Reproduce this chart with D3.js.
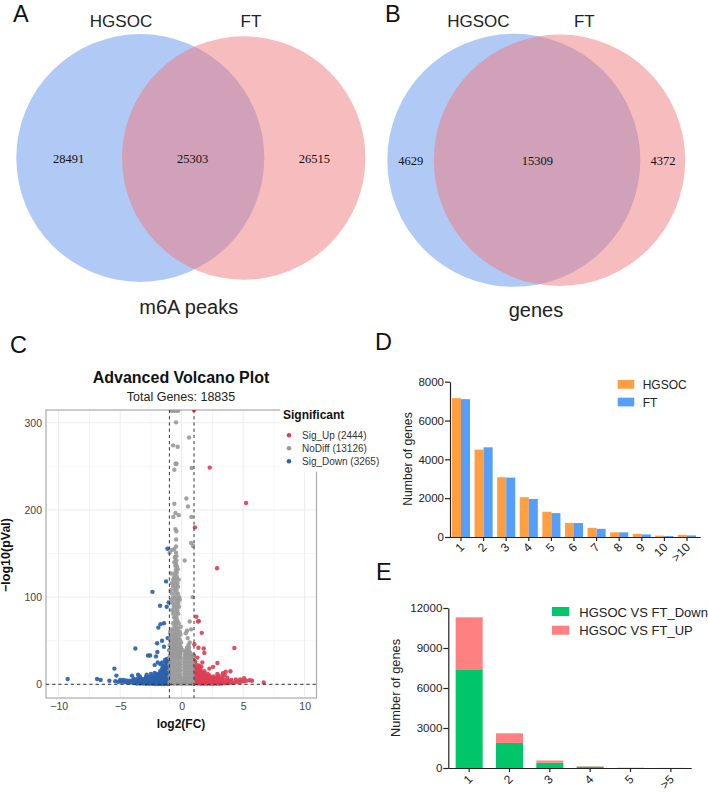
<!DOCTYPE html>
<html><head><meta charset="utf-8">
<script src="https://cdn.jsdelivr.net/npm/d3@7/dist/d3.min.js"></script>
<style>
html,body{margin:0;padding:0;background:#fff}
svg{display:block}
text{font-family:"Liberation Sans",Arial,sans-serif}
</style></head><body>
<svg id="c" width="708" height="795"></svg>
<script>
// ---- data ----
const vennSets = ["HGSOC","FT"];
const vennPeaks = [28491,25303,26515];
const vennGenes = [4629,15309,4372];
const readCats = ["1","2","3","4","5","6","7","8","9","10",">10"];
const readHGSOC = [7150,4500,3080,2050,1300,720,470,240,160,70,110];
const readFT = [7100,4620,3060,1960,1230,720,420,240,130,50,80];
const diffCats = ["1","2","3","4","5",">5"];
const diffDown = [7350,1880,400,100,12,5];
const diffUp = [3950,720,160,30,6,3];
const volcanoXTicks = [-10,-5,0,5,10];
const volcanoYTicks = [0,100,200,300];
const sigLegend = ["Sig_Up (2444)","NoDiff (13126)","Sig_Down (3265)"];

const sigDown = [[-9.27,6],[-6.88,6],[-6.59,5],[-5.88,4],[-5.47,18],[-5.31,10],[-3.77,41],[-2.74,33],[-2.57,33],[-2.09,32],[-1.98,37],[-2.0,47],[-1.6,50],[-1.44,43],[-1.14,53],[-1.0,39],[-1.9,65],[-1.73,69],[-1.44,70],[-1.22,89],[-1.76,90],[-1.06,94],[-2.38,106],[-1.27,118],[-1.16,155.5],[-2.2,22],[-1.95,25],[-1.73,23],[-1.6,25],[-1.45,20],[-4.04,10],[-3.55,11],[-3.4,9],[-2.85,11],[-2.5,12],[-2.2,13],
[-5.4,3.5],[-5.15,3],[-4.9,3],[-4.65,2.5],[-4.4,2],[-4.15,2],[-3.9,1.5],[-3.65,1],[-3.4,1],[-3.15,.8],[-2.9,.6],[-2.65,.5],[-2.4,.5],[-2.15,.4],[-1.9,.4],[-1.65,.3],[-1.4,.3],[-1.15,.3],
[-5.0,5],[-4.75,5],[-4.5,4.5],[-4.25,4],[-4.0,4.5],[-3.75,4],[-3.5,4],[-3.25,3.5],[-3.0,3.5],[-2.75,3.2],[-2.5,3],[-2.25,3],[-2.0,3],[-1.75,3],[-1.5,3],[-1.25,3],[-1.05,3],
[-3.55,2.2],[-3.3,2],[-3.05,2],[-2.8,1.8],[-2.55,1.8],[-2.3,1.7],[-2.05,1.6],[-1.8,1.6],[-1.55,1.6],[-1.3,1.6],[-1.08,1.6],
[-3.9,6.5],[-3.6,6.5],[-3.3,6.5],[-3.05,6],[-2.8,6],[-2.55,6],[-2.3,6],[-2.05,6],[-1.8,6],[-1.55,6],[-1.3,6],[-1.05,6],
[-3.2,5],[-2.95,4.8],[-2.7,4.6],[-2.45,4.5],[-2.2,4.5],[-1.95,4.5],[-1.7,4.5],[-1.45,4.5],[-1.2,4.5],
[-2.9,8.5],[-2.65,8.5],[-2.4,9],[-2.15,9],[-1.9,9],[-1.65,9],[-1.4,9],[-1.15,9],[-1.0,10],
[-2.5,7.5],[-2.25,7.5],[-2.0,7.5],[-1.75,7.5],[-1.5,7.5],[-1.25,7.5],[-1.03,7.5],
[-2.05,12],[-1.8,12],[-1.55,12.5],[-1.3,12],[-1.05,12.5],[-1.92,10.5],[-1.68,10.5],[-1.42,10.5],[-1.18,10.5],
[-1.75,15],[-1.5,15.5],[-1.25,15],[-1.02,16],[-1.62,13.8],[-1.38,13.8],[-1.13,13.8],
[-1.6,18],[-1.35,18.5],[-1.1,19],[-1.4,16.8],[-1.15,17],
[-1.5,21],[-1.25,21.5],[-1.03,22.5],[-1.2,24],[-1.02,20.5],
[-1.3,25],[-1.05,26],[-1.2,29],[-1.02,30],[-1.12,27.5],[-1.35,28]];

const sigUp = [[1.0,314.6],[2.28,248.5],[5.23,208],[1.08,180],[2.87,133],[1.19,77.6],[1.33,72],[1.39,72.5],[1.63,59],[4.28,41.7],[1.03,46],[1.36,42],[1.79,41],[1.84,36],[2.9,24.5],[2.55,20],[2.25,18],[1.27,30.6],[1.68,25],[3.96,15],[3.58,14.5],[3.36,12.6],[6.67,2],[5.72,4],[5.53,4.6],[5.07,7],[1.0,33],[1.1,26],[1.45,21],[1.6,20],[1.3,22],
[1.05,1],[1.3,.8],[1.55,.7],[1.8,.6],[2.05,.5],[2.3,.5],[2.55,.5],[2.8,.6],[3.05,.7],[3.3,.9],[3.55,1.1],[3.8,1.3],[4.05,1.6],[4.3,2],[4.55,2.5],[4.8,3],[5.05,3.5],[5.25,4],
[1.18,2.2],[1.42,2.1],[1.68,2],[1.92,1.9],[2.18,1.8],[2.42,1.8],[2.68,1.8],[2.92,1.9],[3.18,2],[3.42,2.3],[3.68,2.6],[3.92,3],
[1.05,4],[1.3,3.5],[1.55,3.5],[1.8,3.2],[2.05,3],[2.3,3],[2.55,3],[2.8,3.2],[3.05,3.5],[3.3,3.8],[3.55,4],[3.8,4.5],[4.05,5],[4.4,5.5],[4.75,5.5],
[1.18,5.2],[1.42,5],[1.68,4.8],[1.92,4.6],[2.18,4.5],[2.42,4.5],[2.68,4.6],[2.92,4.8],[3.18,5.2],
[1.05,7],[1.3,6.5],[1.55,6.5],[1.8,6],[2.05,6],[2.3,6],[2.55,6],[2.8,6],[3.05,6.5],[3.35,7],[3.7,7.5],
[1.18,8.2],[1.42,8],[1.68,7.8],[1.92,7.5],[2.18,7.5],[2.42,7.5],[2.68,7.6],[2.92,8],
[1.05,10],[1.3,9.5],[1.55,9.5],[1.8,9],[2.05,9],[2.3,9],[2.6,9],[3.0,9.5],[3.3,10],[3.5,11],
[1.18,11.2],[1.42,11],[1.68,10.8],[1.92,10.5],[2.2,10.5],
[1.05,13],[1.3,12.5],[1.55,12.5],[1.8,12],[2.1,12],[2.9,12],[1.18,14.2],[1.42,14],[1.68,13.8],
[1.05,16],[1.3,16],[1.55,15.5],[1.85,15],[1.18,17.5],[1.42,17],
[1.05,19],[1.25,19],[1.5,18],[1.05,23],[1.02,27]];

const noDiff = [[-.85,314],[-.75,314],[-.65,314],[-.55,314],[-.45,314],[-.35,314],[-.28,314],[-.46,300.4],[.6,283],[-.7,274],[-.33,272.5],[-.5,253],[-.42,253],[.81,248],[-.6,246],[.38,213],[-.6,207],[.51,204],[-.51,196.5],[-.24,194],[-.68,192],[.79,192],[-.51,178],[-.43,175.5],[-.46,166],[.76,162],[.92,158.6],[-.46,158],[-.79,154],[-.62,155],[-.98,151],[-.46,151],[-.55,146],[-.43,142],[.24,142],
[-.55,145],[-.42,147],[-.6,140],[-.45,138],[-.52,136],[-.38,135],[-.48,131],[-.33,132],
[-.86,127],[-.55,127],[-.4,128],[-.62,123],[-.38,123],[-.7,120],[-.5,120],[-.24,120],[-.8,116],[-.55,116],[-.35,116],[-.72,112],[-.48,112],[-.3,112],[-.9,108],[-.6,108],[-.42,108],[-.8,104],[-.52,104],[-.3,104],[-.7,100],[-.45,100],[-.2,100],[.89,100],[-.85,97],[-.55,97],[-.3,97],[-.16,97],[-.75,93],[-.48,93],[-.28,93],[-.65,89],[-.4,89],[-.22,89],[-.8,85],[-.55,85],[-.35,85],[-.7,81],[-.48,81],[-.28,81],[-.62,77],[-.42,77],[-.55,73],[-.35,73],[.65,72],[-.7,70],[-.45,70],[-.25,70],[-.6,66],[-.4,66],[-.08,66],[-.85,63],[-.55,63],[-.3,63],[.76,63],[.43,61.5],[-.95,60],[-.65,60],[-.4,60],[-.15,60],[.33,58.5],[-.9,57],[-.6,57],[-.35,57],[-.1,57],[-.8,54],[-.5,54],[-.25,54],[.49,53],[-.95,51],[-.65,51],[-.4,51],[-.15,51],[-.85,48],[-.55,48],[-.3,48],[-.05,48],[.65,48],[-.98,45],[-.7,45],[-.42,45],[-.18,45],[.55,45],[-.85,42],[-.6,42],[-.3,42],[-.05,42],[.43,42],[.6,42],
[-.75,56],[-.48,52.5],[-.72,49.5],[-.58,46.5],[-.3,46.5],[-.72,43.5],[-.45,43.5],[-.18,43.5],
[-.95,39],[-.7,39],[-.45,39],[-.2,39],[.1,39],[.4,39],[.52,39],[-.85,36],[-.6,36],[-.35,36],[-.1,36],[.3,36],[.5,36],[.7,36],
[-.82,40.5],[-.58,40.5],[-.32,40.5],[-.08,40.5],[-.82,37.5],[-.58,37.5],[-.32,37.5],[-.1,37.5],[.42,37.5],[.62,37.5],
[-.95,33],[-.72,33],[-.48,33],[-.22,33],[.25,33],[.42,33],[.62,33],[.8,33],
[-.85,34.5],[-.6,34.5],[-.35,34.5],[-.12,34.5],[.33,34.5],[.55,34.5],[.75,34.5],
[-.98,30],[-.75,30],[-.5,30],[-.25,30],[-.1,30],[.22,30],[.45,30],[.68,30],[.9,30],
[-.85,31.5],[-.6,31.5],[-.35,31.5],[-.12,31.5],[.33,31.5],[.55,31.5],[.8,31.5],
[-.9,26.5],[-.65,26.5],[-.4,26.5],[-.15,26.5],[.2,26.5],[.4,26.5],[.62,26.5],[.85,26.5],
[-.98,23],[-.75,23],[-.5,23],[-.25,23],[-.1,23],[.22,23],[.45,23],[.68,23],[.92,23],
[-.9,19.5],[-.65,19.5],[-.4,19.5],[-.15,19.5],[.2,19.5],[.4,19.5],[.62,19.5],[.85,19.5],
[-.98,16],[-.75,16],[-.5,16],[-.25,16],[-.1,16],[.22,16],[.45,16],[.68,16],[.92,16],
[-.9,12.5],[-.65,12.5],[-.4,12.5],[-.15,12.5],[.2,12.5],[.4,12.5],[.62,12.5],[.85,12.5],
[-.98,9],[-.75,9],[-.5,9],[-.25,9],[-.1,9],[.22,9],[.45,9],[.68,9],[.92,9],
[-.9,5.5],[-.65,5.5],[-.4,5.5],[-.15,5.5],[.05,5.5],[.25,5.5],[.45,5.5],[.65,5.5],[.87,5.5],
[-.98,2],[-.75,2],[-.5,2],[-.25,2],[-.02,2],[.2,2],[.42,2],[.68,2],[.92,2],
[-.88,.5],[-.62,.5],[-.38,.5],[-.12,.5],[.1,.5],[.32,.5],[.55,.5],[.8,.5]];

// ---- colours ----
const svg = d3.select("#c");
const vennBlue="#b0c9f5", vennRed="rgb(239,122,125)";
const cUp="#dd3f55", cNo="#9a9a9a", cDown="#2a62ab";

function letter(t,x,y){svg.append("text").attr("x",x).attr("y",y).attr("font-size",23.5).attr("fill","#111").text(t);}
letter("A",13,21.5);letter("B",385,21.5);letter("C",10,353);letter("D",375,350);letter("E",376,580);

// ---- venn ----
function venn(vals,cx1,cx2,cy,k,numX,numY,names,caption,capX,capY){
  const g=svg.append("g");
  const r=d3.scaleSqrt().domain([0,1]).range([0,k]);
  const sizes=[vals[0]+vals[1],vals[1]+vals[2]];
  g.selectAll("circle").data(sizes).join("circle")
    .attr("cx",(d,i)=>i?cx2:cx1).attr("cy",cy).attr("r",d=>r(d))
    .attr("fill",(d,i)=>i?vennRed:vennBlue).attr("fill-opacity",(d,i)=>i?.5:1);
  g.selectAll("text.n").data(vals).join("text").attr("class","n")
    .attr("x",(d,i)=>numX[i]).attr("y",numY).attr("text-anchor","middle")
    .style("font-family",'"Liberation Serif",serif').attr("font-size",12.5).attr("fill","#111").text(d=>d);
  g.selectAll("text.s").data(vennSets).join("text").attr("class","s")
    .attr("x",(d,i)=>names[i]).attr("y",26.5).attr("text-anchor","middle")
    .attr("font-size",17).attr("fill","#222").text(d=>d);
  g.append("text").attr("x",capX).attr("y",capY).attr("text-anchor","middle").attr("font-size",20).attr("fill","#222").text(caption);
}
venn(vennPeaks,140.3,243.7,158,0.5346,[68.7,192.7,314.3],162.5,[121,251],"m6A peaks",188.7,314);
venn(vennGenes,513.8,559.5,160.3,0.896,[410.7,537.3,663],164.7,[478.3,584.3],"genes",536,317);

// ---- volcano ----
const L=46,R=316.5,T=410,B=698;
const vx=d3.scaleLinear().domain([-10,10]).range([58.7,304.7]);
const vy=d3.scaleLinear().domain([0,300]).range([684.3,422.7]);
const v=svg.append("g");
v.append("clipPath").attr("id","pan").append("rect").attr("x",L).attr("y",T).attr("width",R-L).attr("height",B-T);
const minorX=[-7.5,-2.5,2.5,7.5], minorY=[50,150,250];
v.selectAll("line.mx").data(minorX).join("line").attr("class","mx").attr("x1",d=>vx(d)).attr("x2",d=>vx(d)).attr("y1",T).attr("y2",B).attr("stroke","#f5f5f5");
v.selectAll("line.my").data(minorY).join("line").attr("class","my").attr("y1",d=>vy(d)).attr("y2",d=>vy(d)).attr("x1",L).attr("x2",R).attr("stroke","#f5f5f5");
v.selectAll("line.gx").data(volcanoXTicks).join("line").attr("class","gx").attr("x1",d=>vx(d)).attr("x2",d=>vx(d)).attr("y1",T).attr("y2",B).attr("stroke","#ececec");
v.selectAll("line.gy").data(volcanoYTicks).join("line").attr("class","gy").attr("y1",d=>vy(d)).attr("y2",d=>vy(d)).attr("x1",L).attr("x2",R).attr("stroke","#ececec");
v.append("rect").attr("x",L).attr("y",T).attr("width",R-L).attr("height",B-T).attr("fill","none").attr("stroke","#aaa").attr("stroke-width",1.2);
const pts=v.append("g").attr("clip-path","url(#pan)");
[[sigDown,cDown],[sigUp,cUp],[noDiff,cNo]].forEach(([arr,c])=>{
  pts.append("g").selectAll("circle").data(arr).join("circle")
    .attr("cx",d=>vx(d[0])).attr("cy",d=>vy(d[1])).attr("r",2.2).attr("fill",c).attr("fill-opacity",.92);
});
const dash=v.append("g").attr("stroke","#333").attr("stroke-width",1).attr("stroke-dasharray","3.2,3");
dash.selectAll("line.v").data([-1,1]).join("line").attr("class","v").attr("x1",d=>vx(d)).attr("x2",d=>vx(d)).attr("y1",T).attr("y2",B);
dash.append("line").attr("x1",L).attr("x2",R).attr("y1",vy(0)).attr("y2",vy(0));
const vxa=v.append("g").attr("transform",`translate(0,${B})`).call(d3.axisBottom(vx).tickValues(volcanoXTicks).tickSize(0).tickPadding(5).tickFormat(d=>d<0?"\u2212"+(-d):d));
vxa.select(".domain").remove();
const vya=v.append("g").attr("transform",`translate(${L},0)`).call(d3.axisLeft(vy).tickValues(volcanoYTicks).tickSize(0).tickPadding(4));
vya.select(".domain").remove();
[vxa,vya].forEach(a=>a.selectAll("text").attr("font-size",10.5).attr("fill","#444").style("font-family",'"Liberation Sans"'));
v.append("text").attr("x",181).attr("y",383).attr("text-anchor","middle").attr("font-size",16).attr("font-weight","bold").attr("fill","#111").text("Advanced Volcano Plot");
v.append("text").attr("x",181).attr("y",401).attr("text-anchor","middle").attr("font-size",12.5).attr("fill","#222").text("Total Genes: 18835");
v.append("text").attr("x",181).attr("y",728).attr("text-anchor","middle").attr("font-size",12).attr("font-weight","bold").attr("fill","#111").text("log2(FC)");
v.append("text").attr("transform","translate(10,555) rotate(-90)").attr("text-anchor","middle").attr("font-size",12.5).attr("font-weight","bold").attr("fill","#111").text("\u2212log10(pVal)");
// legend
v.append("rect").attr("x",280).attr("y",405).attr("width",92).attr("height",66.5).attr("fill","#fff");
v.append("text").attr("x",283).attr("y",419).attr("font-size",12).attr("font-weight","bold").attr("fill","#111").text("Significant");
v.selectAll("circle.l").data(sigLegend).join("circle").attr("class","l").attr("cx",289).attr("cy",(d,i)=>435.3+i*13).attr("r",2.3).attr("fill",(d,i)=>[cUp,cNo,cDown][i]);
v.selectAll("text.l").data(sigLegend).join("text").attr("class","l").attr("x",302).attr("y",(d,i)=>439+i*13).attr("font-size",10).attr("fill","#333").text(d=>d);

// ---- D ----
const dx=d3.scaleBand().domain(readCats).range([449.7,698.3]).paddingInner(.2).paddingOuter(.1);
const dsub=d3.scaleBand().domain([0,1]).range([0,dx.bandwidth()]);
const dy=d3.scaleLinear().domain([0,8000]).range([537,381.7]);
const D=svg.append("g");
[[readHGSOC,"#ff9f40",0],[readFT,"#559ffb",1]].forEach(([arr,c,k])=>{
  D.append("g").selectAll("rect").data(arr).join("rect")
    .attr("x",(d,i)=>dx(readCats[i])+dsub(k)).attr("width",dsub.bandwidth())
    .attr("y",d=>dy(d)).attr("height",d=>dy(0)-dy(d)).attr("fill",c);
});
function styleAxis(a,fs){
  a.selectAll("path,line").attr("stroke","#222").attr("stroke-width",1.2);
  a.selectAll("text").attr("font-size",fs).attr("fill","#222").style("font-family",'"Liberation Sans"');
}
const dya=D.append("g").attr("transform","translate(450,0)").call(d3.axisLeft(dy).tickValues([0,2000,4000,6000,8000]).tickSize(5).tickPadding(1).tickSizeOuter(0).tickFormat(d3.format("d")));
styleAxis(dya,11.5);
const dxa=D.append("g").attr("transform","translate(0,537)").call(d3.axisBottom(dx).tickSize(4).tickSizeOuter(0));
dxa.select(".domain").attr("d","M450,0.5H700.7");
styleAxis(dxa,12);
dxa.selectAll("text").attr("text-anchor","end").attr("dy",0).attr("y",0).attr("transform","translate(4,11) rotate(-45)");
D.append("text").attr("transform","translate(412,459) rotate(-90)").attr("text-anchor","middle").attr("font-size",12.2).attr("fill","#222").text("Number of genes");
const dleg=[["HGSOC","#ff9f40",380],["FT","#559ffb",397.7]];
D.selectAll("rect.l").data(dleg).join("rect").attr("class","l").attr("x",617.7).attr("width",16.5).attr("y",d=>d[2]).attr("height",8.7).attr("fill",d=>d[1]);
D.selectAll("text.l").data(dleg).join("text").attr("class","l").attr("x",642.7).attr("y",d=>d[2]+9).attr("font-size",12).attr("fill","#222").text(d=>d[0]);

// ---- E ----
const ex=d3.scaleBand().domain(diffCats).range([449,691]).paddingInner(.33).paddingOuter(.165);
const ey=d3.scaleLinear().domain([0,12000]).range([768,608]);
const E=svg.append("g");
E.append("g").selectAll("rect").data(diffDown).join("rect")
  .attr("x",(d,i)=>ex(diffCats[i])).attr("width",ex.bandwidth()).attr("y",d=>ey(d)).attr("height",d=>ey(0)-ey(d)).attr("fill","#00c66a");
E.append("g").selectAll("rect").data(diffUp).join("rect")
  .attr("x",(d,i)=>ex(diffCats[i])).attr("width",ex.bandwidth()).attr("y",(d,i)=>ey(d+diffDown[i])).attr("height",d=>ey(0)-ey(d)).attr("fill","#ff8080");
const eya=E.append("g").attr("transform","translate(448.3,0)").call(d3.axisLeft(ey).tickValues([0,3000,6000,9000,12000]).tickSize(5).tickPadding(1).tickSizeOuter(0).tickFormat(d3.format("d")));
styleAxis(eya,11.5);
const exa=E.append("g").attr("transform","translate(0,768)").call(d3.axisBottom(ex).tickSize(4).tickSizeOuter(0));
exa.select(".domain").attr("d","M448.3,0.5H691.7");
styleAxis(exa,12);
exa.selectAll("text").attr("text-anchor","end").attr("dy",0).attr("y",0).attr("transform","translate(4,12) rotate(-45)");
E.append("text").attr("transform","translate(400,688) rotate(-90)").attr("text-anchor","middle").attr("font-size",12.8).attr("fill","#222").text("Number of genes");
const eleg=[["HGSOC VS FT_Down","#00c66a",607],["HGSOC VS FT_UP","#ff8080",625.7]];
E.selectAll("rect.l").data(eleg).join("rect").attr("class","l").attr("x",552).attr("width",17.3).attr("y",d=>d[2]).attr("height",9).attr("fill",d=>d[1]);
E.selectAll("text.l").data(eleg).join("text").attr("class","l").attr("x",579.3).attr("y",d=>d[2]+9.5).attr("font-size",13).attr("fill","#222").text(d=>d[0]);
</script>
</body></html>
